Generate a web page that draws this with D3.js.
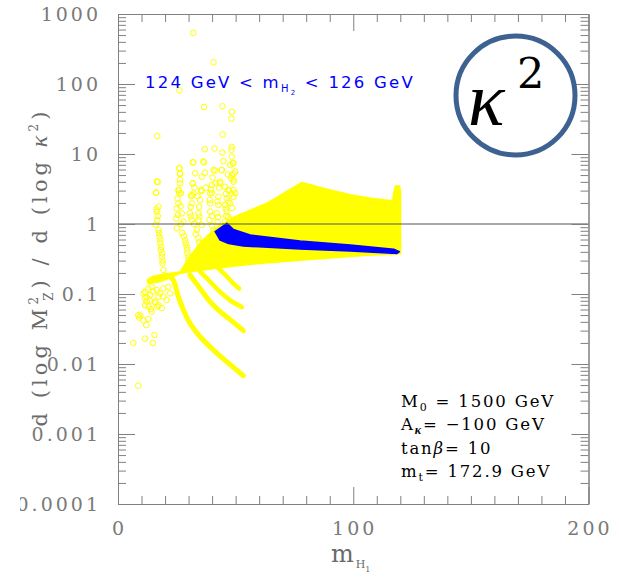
<!DOCTYPE html>
<html>
<head>
<meta charset="utf-8">
<script src="https://cdn.jsdelivr.net/npm/d3@7"></script>
<style>
  html, body { margin: 0; padding: 0; background: #fff; }
  svg { display: block; }
</style>
</head>
<body>
<svg id="chart" width="619" height="579"></svg>
<script>
// ---- data: m_H1 [GeV] vs d(log M_Z^2)/d(log kappa^2) ----
const xMajorTicks = [0, 100, 200];
const xMinorTicks = [10, 20, 30, 40, 50, 60, 70, 80, 90, 110, 120, 130, 140, 150, 160, 170, 180, 190];
const yMajorTicks = [1e-4, 1e-3, 1e-2, 1e-1, 1, 10, 100, 1000];
const yTickLabels = ["0.0001", "0.001", "0.01", "0.1", "1", "10", "100", "1000"];

// dense scan region (outline of the filled band), [m_H1, ratio]
const fanOutline = [[26.4, 0.204], [30, 0.316], [35, 0.54], [42, 0.89], [49.6, 1.26], [63.8, 2.0],
  [78.2, 3.89], [88, 3.16], [98.7, 2.59], [108, 2.29], [116.8, 2.14], [117.4, 2.82], [118, 3.47],
  [119.6, 3.47], [120, 2.82], [120, 0.38], [105.8, 0.36], [77.4, 0.306], [60, 0.275], [43, 0.24],
  [26.4, 0.20]];
const leftWing = [[26.4, 0.204], [20, 0.192], [15, 0.178], [12.5, 0.158], [13, 0.142], [18, 0.152],
  [23, 0.176], [26.4, 0.20]];

// thin dense branches falling off the band
const branch1 = [[22, 0.178], [23.5, 0.158], [25.7, 0.091], [27.8, 0.059], [30.6, 0.038], [34.9, 0.0245],
  [40.6, 0.0158], [46.3, 0.0107], [53.3, 0.0068]];
const branch2 = [[30.6, 0.186], [34.9, 0.12], [39.1, 0.078], [43.4, 0.056], [47.7, 0.043], [53.3, 0.030]];
const branch3 = [[34.9, 0.209], [39.1, 0.151], [43.4, 0.107], [47.7, 0.081], [52.6, 0.065]];
const branch4 = [[42, 0.245], [46.3, 0.178], [49.1, 0.141], [51.5, 0.12]];

// points with 124 GeV < m_H2 < 126 GeV (outline of the blue band)
const higgsBand = [[46.3, 1.02], [41.3, 0.776], [43.4, 0.589], [47, 0.525], [53.3, 0.485], [77.4, 0.44],
  [98.7, 0.411], [118.6, 0.38], [119.6, 0.403], [117.2, 0.437], [98.7, 0.50], [77.4, 0.571],
  [56.2, 0.697], [49, 0.839], [46.3, 1.02]];

// isolated scan points
const upperPoints = [[32, 537], [40.6, 204], [26.1, 81], [36.6, 47], [44.4, 48], [48.4, 40], [48.2, 32],
  [44.5, 19], [16.7, 18], [36.9, 11.7], [41, 12], [48.4, 12.6], [48.2, 11.5], [44.3, 10.5], [31.8, 7.6],
  [36.3, 7.8], [44.8, 7.9], [48.8, 7.4], [26.1, 6.3], [26.4, 5.2], [37, 5.4], [41.3, 5.8], [44.1, 5.9],
  [46.7, 5.1], [49.1, 5.2], [31.8, 3.8], [37.4, 3.3], [41.4, 3.8], [43.4, 3.8], [49.1, 4.3], [25.8, 3.0],
  [26.8, 2.75], [31.4, 2.6], [35.6, 2.95], [39.9, 2.8], [47.2, 3.0], [49.8, 2.75], [16.9, 4.0], [16.2, 2.8]];
const columnA = [[16.5, 4.03], [16.2, 2.81], [17.2, 1.77], [16.5, 1.50], [16.7, 1.14], [17.2, 0.82],
  [17.6, 0.66], [17.9, 0.53], [18.2, 0.425], [18.6, 0.341], [18.9, 0.274], [19.3, 0.220],
  [16.4, 1.62], [16.9, 1.3], [16.0, 0.98], [17.5, 0.74], [18.0, 0.60], [18.4, 0.47], [18.8, 0.38], [19.0, 0.30]];
const columnB = [[26.1, 6.24], [26.4, 5.30], [25.7, 3.06], [26.1, 2.74], [25.7, 1.97], [25.0, 1.67],
  [27.1, 1.42], [24.7, 1.20], [25.0, 0.867], [27.8, 1.08], [28.5, 0.59], [29.2, 0.474], [29.5, 0.381],
  [29.9, 0.306], [30.4, 0.245], [26.4, 3.81],
  [26.4, 4.3], [25.3, 2.3], [26.6, 1.8], [25.5, 1.35], [26.8, 1.0], [27.3, 0.75], [28.0, 0.67],
  [28.8, 0.53], [29.4, 0.43], [30.0, 0.34]];
const columnC = [[32.1, 7.6], [36.6, 7.6], [31.8, 3.81], [32.1, 2.74], [35.3, 3.06], [31.4, 1.97],
  [34.9, 2.20], [30.6, 1.42], [34.2, 1.42], [31.4, 1.14], [34.2, 1.14], [33.5, 0.82], [35.6, 0.968],
  [34.2, 0.624], [34.9, 0.474], [35.6, 0.381], [32.8, 5.3], [35.6, 4.74],
  [32.5, 3.3], [31.1, 2.5], [33.8, 2.5], [30.9, 1.75], [34.5, 1.75], [31.0, 1.28], [34.6, 1.28],
  [32.3, 1.0], [33.0, 0.72], [34.5, 0.55]];
const columnD = [[39.9, 3.61], [40.6, 5.9], [44.1, 5.9], [43.4, 4.03], [39.2, 2.74], [42.7, 2.45],
  [39.2, 1.97], [42.7, 1.87], [39.2, 1.50], [42.0, 1.42], [38.9, 1.14], [42.3, 1.08], [40.6, 0.82],
  [41.3, 0.624],
  [40.2, 4.6], [43.0, 3.3], [39.5, 3.1], [42.3, 2.1], [39.0, 2.2], [40.0, 1.3], [42.5, 1.25],
  [40.0, 0.95], [41.0, 0.72]];
const columnE = [[47.7, 6.97], [49.1, 7.36], [48.4, 5.01], [49.1, 4.03], [45.5, 3.41], [46.9, 3.06],
  [49.1, 3.06], [46.2, 2.33], [49.1, 2.45], [45.5, 1.87], [47.7, 1.97], [46.2, 1.50], [46.9, 1.26],
  [45.5, 1.08], [49.8, 5.6], [48.4, 9.16],
  [48.0, 4.5], [45.9, 2.7], [48.2, 2.7], [47.0, 2.1], [45.8, 1.66], [48.5, 1.7], [46.0, 1.3], [47.5, 1.15]];
const fanLeftPoints = [[10.8, 0.102], [11.5, 0.087], [12.9, 0.12], [14.3, 0.127], [15.0, 0.108],
  [16.5, 0.114], [17.9, 0.102], [19.3, 0.092], [20.7, 0.082], [13.6, 0.097], [15.7, 0.078],
  [12.2, 0.078], [17.2, 0.092], [19.3, 0.12], [21.4, 0.127], [22.1, 0.102]];
const lowerPoints = [[11.5, 0.107], [12.2, 0.091], [13.5, 0.08], [11.5, 0.069], [14.3, 0.056], [8.6, 0.05],
  [9.5, 0.049], [10.8, 0.042], [12.9, 0.044], [17.2, 0.069], [18.6, 0.063], [16, 0.075], [16.8, 0.066],
  [6.5, 0.02], [11.5, 0.023], [15.5, 0.026], [14.8, 0.02], [8.6, 0.0049],
  [13.0, 0.066], [14.0, 0.061], [9.0, 0.046], [12.0, 0.036]];

// ---- layout ----
const svg = d3.select("#chart");
const x = d3.scaleLinear().domain([0, 200]).range([118, 588.5]);
const y = d3.scaleLog().domain([1e-4, 1e3]).range([504, 14]);
const yMinorTicks = [];
for (let e = -4; e < 3; e++) for (let k = 2; k <= 9; k++) yMinorTicks.push(k * Math.pow(10, e));

const YELLOW = "#ffff00", BLUE = "#0000ff", AXIS = "#808080";

// ---- marks ----
const area = d3.line().x(d => x(d[0])).y(d => y(d[1]));
const smooth = d3.line().x(d => x(d[0])).y(d => y(d[1])).curve(d3.curveCatmullRom);

const marks = svg.append("g");
[fanOutline, leftWing].forEach(poly => {
  marks.append("path").attr("d", area(poly) + "Z")
    .attr("fill", YELLOW).attr("stroke", YELLOW).attr("stroke-width", 2).attr("stroke-linejoin", "round");
});
[[branch1, 5], [branch2, 5], [branch3, 4.5], [branch4, 4.5]].forEach(([b, w]) => {
  marks.append("path").attr("d", smooth(b)).attr("fill", "none")
    .attr("stroke", YELLOW).attr("stroke-width", w).attr("stroke-linecap", "round");
});
const scatter = [].concat(upperPoints, columnA, columnB, columnC, columnD, columnE, fanLeftPoints, lowerPoints);
marks.selectAll("circle.pt").data(scatter).join("circle").attr("class", "pt")
  .attr("cx", d => x(d[0])).attr("cy", d => y(d[1])).attr("r", 2.8)
  .attr("fill", "none").attr("stroke", YELLOW).attr("stroke-width", 1);
marks.append("path").attr("d", area(higgsBand) + "Z")
  .attr("fill", BLUE).attr("stroke", BLUE).attr("stroke-width", 1.5).attr("stroke-linejoin", "round");

// reference line at ratio = 1
svg.append("line").attr("x1", x(0)).attr("x2", x(200)).attr("y1", y(1)).attr("y2", y(1))
  .attr("stroke", "#555").attr("stroke-width", 1);

// ---- axes (ticks inward on all four sides) ----
function styleAxis(g) {
  g.selectAll("path.domain").attr("stroke", AXIS).attr("stroke-width", 1);
  g.selectAll(".tick line").attr("stroke", AXIS).attr("stroke-width", 1);
  g.selectAll(".tick text").remove();
}
const axes = svg.append("g");
axes.append("g").attr("transform", `translate(0,${y(1e-4)})`)
  .call(d3.axisBottom(x).tickValues(xMajorTicks).tickSize(-17).tickSizeOuter(0)).call(styleAxis);
axes.append("g").attr("transform", `translate(0,${y(1e-4)})`)
  .call(d3.axisBottom(x).tickValues(xMinorTicks).tickSize(-8).tickSizeOuter(0)).call(styleAxis);
axes.append("g").attr("transform", `translate(0,${y(1e3)})`)
  .call(d3.axisTop(x).tickValues(xMajorTicks).tickSize(-17).tickSizeOuter(0)).call(styleAxis);
axes.append("g").attr("transform", `translate(0,${y(1e3)})`)
  .call(d3.axisTop(x).tickValues(xMinorTicks).tickSize(-8).tickSizeOuter(0)).call(styleAxis);
axes.append("g").attr("transform", `translate(${x(0)},0)`)
  .call(d3.axisLeft(y).tickValues(yMajorTicks).tickSize(-17).tickSizeOuter(0)).call(styleAxis);
axes.append("g").attr("transform", `translate(${x(0)},0)`)
  .call(d3.axisLeft(y).tickValues(yMinorTicks).tickSize(-8).tickSizeOuter(0)).call(styleAxis);
axes.append("g").attr("transform", `translate(${x(200)},0)`)
  .call(d3.axisRight(y).tickValues(yMajorTicks).tickSize(-17).tickSizeOuter(0)).call(styleAxis);
axes.append("g").attr("transform", `translate(${x(200)},0)`)
  .call(d3.axisRight(y).tickValues(yMinorTicks).tickSize(-8).tickSizeOuter(0)).call(styleAxis);

// ---- tick labels ----
const SERIF = "'DejaVu Serif', serif";
const KAPPA_FONT = "'Liberation Serif', serif";
svg.append("defs").append("clipPath").attr("id", "labelClip")
  .append("rect").attr("x", 20).attr("y", 0).attr("width", 599).attr("height", 579);
svg.append("g").attr("clip-path", "url(#labelClip)")
  .selectAll("text").data(yMajorTicks).join("text")
  .attr("x", 101).attr("y", d => y(d) + 7)
  .attr("text-anchor", "end").attr("font-family", SERIF).attr("font-size", 19)
  .attr("letter-spacing", 3).attr("fill", "#7a7a7a")
  .text((d, i) => yTickLabels[i]);
svg.append("g").selectAll("text").data(xMajorTicks).join("text")
  .attr("x", d => x(d) + 1.5).attr("y", 535)
  .attr("text-anchor", "middle").attr("font-family", SERIF).attr("font-size", 19)
  .attr("letter-spacing", 3).attr("fill", "#7a7a7a")
  .text(d => d);

// ---- axis titles ----
const xt = svg.append("text").attr("x", 331).attr("y", 562).attr("font-family", SERIF).attr("fill", "#6a6a6a");
xt.append("tspan").attr("font-size", 24).text("m");
xt.append("tspan").attr("font-size", 11).attr("dy", 6).attr("dx", 2).text("H");
xt.append("tspan").attr("font-size", 8).attr("dy", 4).text("1");

const yt = svg.append("text").attr("transform", "translate(47,267) rotate(-90)")
  .attr("text-anchor", "middle").attr("font-family", SERIF).attr("font-size", 21).attr("fill", "#6a6a6a");
yt.append("tspan").text("d (log M");
yt.append("tspan").attr("font-size", 12).attr("dy", -9).text("2");
yt.append("tspan").attr("font-size", 12).attr("dy", 15).attr("dx", -8).text("Z");
yt.append("tspan").attr("dy", -6).text(") / d (log ");
yt.append("tspan").attr("font-family", KAPPA_FONT).attr("font-style", "italic").attr("font-size", 24).text("κ");
yt.append("tspan").attr("font-size", 12).attr("dy", -9).text("2");
yt.append("tspan").attr("dy", 9).text(")");
{
  const node = yt.node();
  const n = node.getNumberOfChars();
  const w = node.getComputedTextLength();
  yt.attr("letter-spacing", Math.max(0, (327 - w) / n));
}

// ---- Higgs window legend ----
const SANS = "'DejaVu Sans', sans-serif";
const hw = svg.append("text").attr("x", 145).attr("y", 88).attr("font-family", SANS)
  .attr("font-size", 16.5).attr("fill", BLUE);
hw.append("tspan").text("124 GeV < m");
hw.append("tspan").attr("font-size", 10).attr("dy", 4).text("H");
hw.append("tspan").attr("font-size", 7).attr("dy", 3).text("2");
hw.append("tspan").attr("dy", -7).text(" < 126 GeV");
{
  const node = hw.node();
  const n = node.getNumberOfChars();
  const w = node.getComputedTextLength();
  hw.attr("letter-spacing", Math.max(0, (270 - w) / n));
}

// ---- parameter box ----
const params = svg.append("g").attr("font-family", SERIF).attr("font-size", 16.5).attr("fill", "#000");
const p1 = params.append("text").attr("x", 401).attr("y", 407);
p1.append("tspan").text("M");
p1.append("tspan").attr("font-size", 11).attr("dy", 4).text("0");
p1.append("tspan").attr("dy", -4).text(" = 1500 GeV");
const p2 = params.append("text").attr("x", 401).attr("y", 430);
p2.append("tspan").text("A");
p2.append("tspan").attr("font-size", 12).attr("dy", 4).attr("font-family", KAPPA_FONT)
  .attr("font-style", "italic").attr("font-weight", "bold").text("κ");
p2.append("tspan").attr("dy", -4).text("= −100 GeV");
const p3 = params.append("text").attr("x", 401).attr("y", 454);
p3.append("tspan").text("tan");
p3.append("tspan").attr("font-style", "italic").text("β");
p3.append("tspan").text("= 10");
const p4 = params.append("text").attr("x", 401).attr("y", 477);
p4.append("tspan").text("m");
p4.append("tspan").attr("font-size", 11).attr("dy", 4).text("t");
p4.append("tspan").attr("dy", -4).text("= 172.9 GeV");
{
  const node = p1.node();
  const n = node.getNumberOfChars();
  const w = node.getComputedTextLength();
  params.selectAll("text").attr("letter-spacing", Math.max(0, (154 - w) / n));
}

// ---- coupling badge ----
const badge = svg.append("g");
badge.append("circle").attr("cx", 515.5).attr("cy", 95.5).attr("r", 59.5)
  .attr("fill", "#fff").attr("stroke", "#3d6190").attr("stroke-width", 5);
badge.append("text").attr("x", 468).attr("y", 125).attr("font-family", KAPPA_FONT)
  .attr("font-style", "italic").attr("font-size", 76).attr("fill", "#000").text("κ");
badge.append("text").attr("x", 517).attr("y", 88).attr("font-family", SERIF)
  .attr("font-size", 43).attr("fill", "#000").text("2");
</script>
</body>
</html>
